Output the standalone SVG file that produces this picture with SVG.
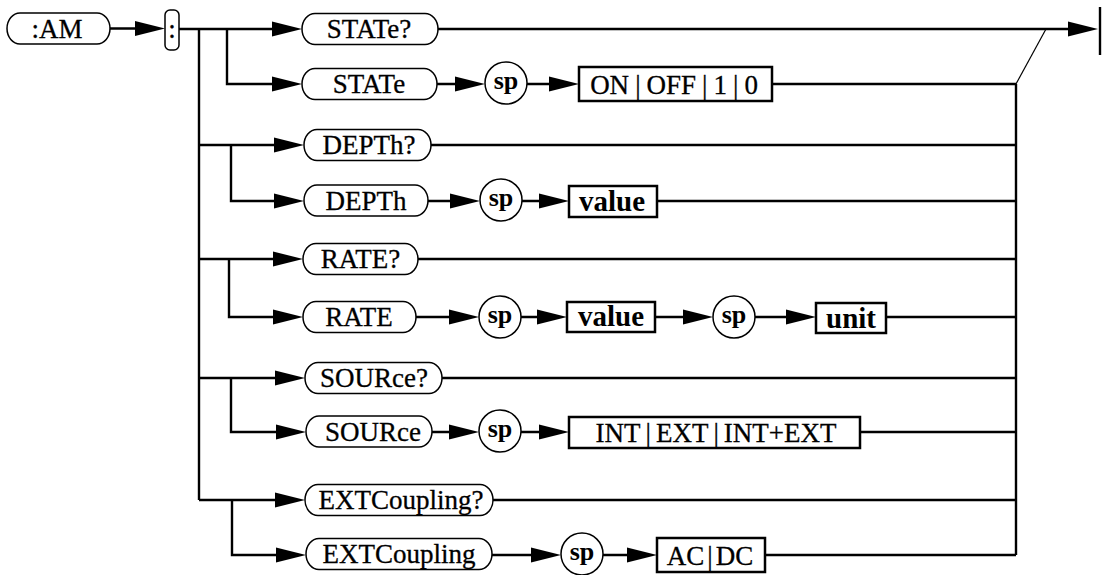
<svg xmlns="http://www.w3.org/2000/svg" width="1102" height="575" viewBox="0 0 1102 575">
<style>
.rb{fill:#fff;stroke:#000;stroke-width:1.5}
.bx{fill:#fff;stroke:#000;stroke-width:2.5}
.sc{fill:#fff;stroke:#000;stroke-width:1.5}
.ln{fill:none;stroke:#000;stroke-width:2.4}
.ar{fill:none;stroke:#000;stroke-width:2.4;marker-end:url(#ah)}
.th{fill:none;stroke:#000;stroke-width:1.2}
.t{font-family:"Liberation Serif",serif;font-size:27px;text-anchor:middle;fill:#000;stroke:#000;stroke-width:0.3}
.s{font-family:"Liberation Serif",serif;font-size:26px;font-weight:bold;text-anchor:middle;fill:#000}
.v{font-family:"Liberation Serif",serif;font-size:29px;font-weight:bold;text-anchor:middle;fill:#000}
</style>
<defs>
<marker id="ah" markerUnits="userSpaceOnUse" markerWidth="30" markerHeight="15" refX="20" refY="7.5" orient="auto" overflow="visible">
<path d="M0,0 L30,7.5 L0,15 z" fill="#000"/>
</marker>
</defs>
<g id="connectors">
<path class="ar" d="M110,28.5 H155"/>
<path class="ar" d="M179,29 H292"/>
<path class="ln" d="M199,29 V500"/>
<path class="ar" d="M227,29 V84 H292"/>
<path class="ar" d="M199,145 H294"/>
<path class="ar" d="M231,145 V201 H294"/>
<path class="ar" d="M199,259 H293"/>
<path class="ar" d="M229,259 V317 H293"/>
<path class="ar" d="M199,378 H295"/>
<path class="ar" d="M231,378 V432 H296"/>
<path class="ar" d="M199,500 H295"/>
<path class="ar" d="M232,500 V555 H296"/>
<path class="ar" d="M437,84 H475"/>
<path class="ar" d="M527,84 H569"/>
<path class="ar" d="M428,201 H470"/>
<path class="ar" d="M522,201 H559"/>
<path class="ar" d="M416,317 H469"/>
<path class="ar" d="M521,317 H557"/>
<path class="ar" d="M655,317 H703"/>
<path class="ar" d="M755,317 H806"/>
<path class="ar" d="M432,432 H469"/>
<path class="ar" d="M521,432 H559"/>
<path class="ar" d="M492,555 H551"/>
<path class="ar" d="M603,555 H647"/>
<path class="ar" d="M437,29 H1088"/>
<path class="ln" d="M1100,7 V55"/>
<path class="th" d="M1016,84 L1046,29"/>
<path class="ln" d="M1016,84 V555"/>
<path class="ln" d="M772,84 H1016"/>
<path class="ln" d="M431,145 H1016"/>
<path class="ln" d="M657,201 H1016"/>
<path class="ln" d="M418,259 H1016"/>
<path class="ln" d="M886,317 H1016"/>
<path class="ln" d="M442,378 H1016"/>
<path class="ln" d="M860,432 H1016"/>
<path class="ln" d="M493,500 H1016"/>
<path class="ln" d="M765,555 H1016"/>
</g>
<g id="am"><rect class="rb" x="7" y="13" width="103" height="31" rx="13" ry="15.5"/><text class="t" x="57" y="38">:AM</text></g>
<g id="colon"><rect class="rb" x="165" y="10" width="14" height="40" rx="5" ry="5"/><text class="t" x="172" y="37.5">:</text></g>
<g id="state-q"><rect class="rb" x="302" y="13.5" width="136" height="31" rx="13" ry="15.5"/><text class="t" x="369" y="38">STATe?</text></g>
<g id="state"><rect class="rb" x="302" y="68.5" width="135" height="31" rx="13" ry="15.5"/><text class="t" x="369" y="93">STATe</text></g>
<g id="sp1"><circle class="sc" cx="506" cy="83" r="21"/><text class="s" x="506" y="88.5">sp</text></g>
<g id="onoff"><rect class="bx" x="579" y="67" width="193" height="34"/><text class="t" x="674" y="93.5">ON<tspan dx="6">|</tspan><tspan dx="6">OFF</tspan><tspan dx="6">|</tspan><tspan dx="6">1</tspan><tspan dx="6">|</tspan><tspan dx="6">0</tspan></text></g>
<g id="depth-q"><rect class="rb" x="304" y="129.5" width="127" height="31" rx="13" ry="15.5"/><text class="t" x="369" y="154">DEPTh?</text></g>
<g id="depth"><rect class="rb" x="304" y="185" width="124" height="31" rx="13" ry="15.5"/><text class="t" x="366" y="209.5">DEPTh</text></g>
<g id="sp2"><circle class="sc" cx="501" cy="200" r="21"/><text class="s" x="501" y="205.5">sp</text></g>
<g id="value1"><rect class="bx" x="569" y="186" width="88" height="31"/><text class="v" x="612" y="211">value</text></g>
<g id="rate-q"><rect class="rb" x="303" y="243.5" width="115" height="31" rx="13" ry="15.5"/><text class="t" x="360.5" y="268">RATE?</text></g>
<g id="rate"><rect class="rb" x="303" y="301.5" width="113" height="31" rx="13" ry="15.5"/><text class="t" x="359" y="326">RATE</text></g>
<g id="sp3"><circle class="sc" cx="500" cy="317" r="21"/><text class="s" x="500" y="322.5">sp</text></g>
<g id="value2"><rect class="bx" x="567" y="302" width="88" height="30"/><text class="v" x="611" y="326">value</text></g>
<g id="sp4"><circle class="sc" cx="734" cy="317" r="21"/><text class="s" x="734" y="322.5">sp</text></g>
<g id="unit"><rect class="bx" x="816" y="303" width="70" height="30"/><text class="v" x="851" y="328">unit</text></g>
<g id="source-q"><rect class="rb" x="305" y="362.5" width="137" height="31" rx="13" ry="15.5"/><text class="t" x="374" y="387">SOURce?</text></g>
<g id="source"><rect class="rb" x="306" y="416" width="126" height="31" rx="13" ry="15.5"/><text class="t" x="373" y="440.5">SOURce</text></g>
<g id="sp5"><circle class="sc" cx="500" cy="431" r="21"/><text class="s" x="500" y="436.5">sp</text></g>
<g id="intext"><rect class="bx" x="569" y="417" width="291" height="31"/><text class="t" x="716" y="442">INT<tspan dx="5">|</tspan><tspan dx="5">EXT</tspan><tspan dx="5">|</tspan><tspan dx="5">INT+EXT</tspan></text></g>
<g id="ext-q"><rect class="rb" x="305" y="484.5" width="188" height="31" rx="13" ry="15.5"/><text class="t" x="401" y="509">EXTCoupling?</text></g>
<g id="ext"><rect class="rb" x="306" y="538.5" width="186" height="31" rx="13" ry="15.5"/><text class="t" x="399" y="563">EXTCoupling</text></g>
<g id="sp6"><circle class="sc" cx="582" cy="554" r="21"/><text class="s" x="582" y="559.5">sp</text></g>
<g id="acdc"><rect class="bx" x="657" y="538" width="108" height="34"/><text class="t" x="710" y="564.5">AC<tspan dx="3">|</tspan><tspan dx="3">DC</tspan></text></g>
</svg>
